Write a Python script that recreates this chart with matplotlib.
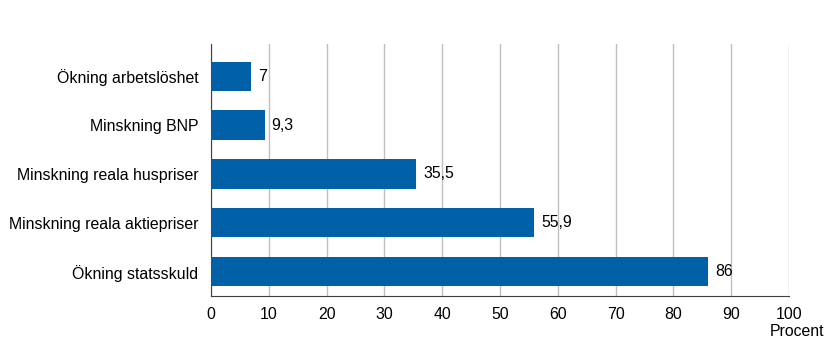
import matplotlib.pyplot as plt

categories = ["Ökning arbetslöshet", "Minskning BNP", "Minskning reala huspriser",
              "Minskning reala aktiepriser", "Ökning statsskuld"]
values = [7, 9.3, 35.5, 55.9, 86]
value_labels = ["7", "9,3", "35,5", "55,9", "86"]
xticks = list(range(0, 101, 10))

plt.rcParams["font.family"] = ["Liberation Sans", "DejaVu Sans"]
plt.rcParams["font.size"] = 11.4

fig = plt.figure(figsize=(8.25, 3.59), dpi=100)
ax = fig.add_axes([0.2558, 0.1755, 0.7006, 0.7019])

ypos = list(range(len(categories)))
ax.barh(ypos, values, height=0.6, color="#0061a8", zorder=3)
for y, v, lab in zip(ypos, values, value_labels):
    ax.annotate(lab, (v, y), xytext=(5, 0), textcoords="offset points",
                va="center", ha="left", color="#000000")

ax.set_yticks(ypos)
ax.set_yticklabels(categories)
ax.set_ylim(4.5, -0.66)
ax.set_xlim(0, 100)
ax.set_xticks(xticks)
ax.xaxis.grid(True, color="#bfbfbf", linewidth=1, zorder=0)
ax.tick_params(axis="y", length=0, pad=9)
ax.tick_params(axis="x", length=0, pad=8)
for s in ["top", "right"]:
    ax.spines[s].set_visible(False)
ax.spines["left"].set_color("#404040")
ax.spines["bottom"].set_color("#404040")
ax.text(0.967, -0.139, "Procent", transform=ax.transAxes, ha="left", va="center")

fig.savefig("out.png", dpi=100)
